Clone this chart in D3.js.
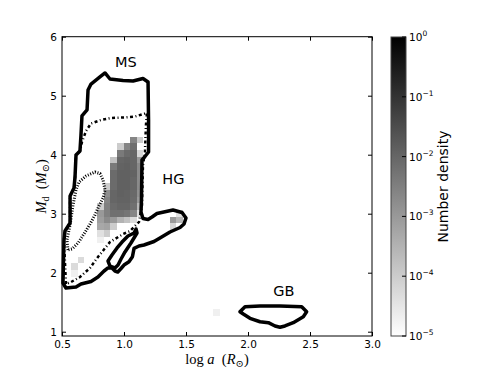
<!DOCTYPE html>
<meta charset="utf-8" />
<style>
  body { margin: 0; background: #fff; }
  text { font-family: "DejaVu Sans", sans-serif; fill: #000; }
  .math { font-family: "Liberation Serif", "DejaVu Serif", serif; font-size: 14.5px; }
</style>
<body>
<script src="https://d3js.org/d3.v7.min.js"></script>
<script>
// ---- data ----
var xTicks = [0.5, 1.0, 1.5, 2.0, 2.5, 3.0];
var yTicks = [1, 2, 3, 4, 5, 6];
var cbTicks = [1, 0.1, 0.01, 0.001, 0.0001, 0.00001];

// histogram bins: left edges in log a, bottom edges in Md
var binLogA = [0.784, 0.837, 0.890, 0.943, 0.996, 1.049, 1.102];
var binMd = [4.192, 4.079, 3.966, 3.853, 3.740, 3.627, 3.514, 3.401,
             3.288, 3.175, 3.062, 2.949, 2.836, 2.723, 2.610, 2.497];
var n = null;
// log10(number density), one array per log a column, one value per Md row
var logDensity = [
  [n, n, n, n, n, n, n, n, n, n, -4.0, -3.0, -3.1, -3.3, -4.4, -4.7],
  [n, n, n, n, n, n, n, -4.0, -2.8, -2.6, -2.5, -2.5, -2.7, -3.2, -4.0, n],
  [n, n, n, -3.8, -2.4, -2.1, -2.1, -2.1, -2.0, -2.0, -2.1, -2.2, -3.0, -4.0, n, n],
  [n, -4.0, -2.4, -2.0, -1.95, -1.9, -1.9, -1.9, -1.9, -1.95, -2.0, -2.2, -3.5, n, n, n],
  [n, -2.6, -2.1, -1.95, -1.9, -1.9, -1.9, -1.9, -1.95, -1.95, -2.0, -2.3, -3.8, n, n, n],
  [-2.6, -2.2, -2.0, -2.0, -2.0, -1.95, -2.0, -2.0, -2.05, -2.1, -2.2, -2.6, -4.3, n, n, n],
  [-4.0, n, -4.2, -3.0, -2.7, -2.7, -2.7, -2.7, -2.8, -3.0, -3.6, -4.4, n, n, n, n]
];
// isolated cells: [log a, Md, log10 density]
var extraCells = [
  [0.572, 2.045, -4.3], [0.625, 2.158, -4.3], [0.572, 1.932, -4.7],
  [1.420, 2.949, -4.4], [1.420, 2.836, -3.6], [1.367, 2.836, -3.0],
  [1.367, 2.723, -4.2], [1.720, 1.266, -4.7]
];

// contours: [log a, Md]
var contourOuter = [
  [0.847, 5.385], [0.887, 5.283], [0.992, 5.258], [1.073, 5.249], [1.153, 5.292],
  [1.194, 5.232], [1.198, 4.588], [1.198, 4.046], [1.169, 3.969], [1.145, 3.910],
  [1.141, 3.232], [1.137, 3.029], [1.153, 2.919], [1.194, 2.902], [1.226, 2.944],
  [1.266, 3.003], [1.395, 3.063], [1.468, 3.020], [1.500, 2.927], [1.484, 2.825],
  [1.452, 2.766], [1.371, 2.690], [1.290, 2.588], [1.242, 2.529], [1.161, 2.469],
  [1.121, 2.452], [1.081, 2.413], [1.068, 2.271], [1.040, 2.186], [1.000, 2.130],
  [0.976, 2.071], [0.950, 2.012], [0.927, 2.029], [0.903, 2.080], [0.871, 2.080],
  [0.839, 2.029], [0.790, 1.927], [0.734, 1.851], [0.653, 1.808], [0.613, 1.758],
  [0.532, 1.741], [0.508, 1.825], [0.516, 2.554], [0.524, 2.707], [0.565, 2.842],
  [0.565, 3.300], [0.597, 3.436], [0.605, 3.622], [0.613, 3.995], [0.645, 4.063],
  [0.653, 4.334], [0.661, 4.656], [0.702, 4.758], [0.710, 5.097], [0.734, 5.198],
  [0.806, 5.317]
];
var contourSliver = [
  [1.097, 2.741], [1.081, 2.673], [1.032, 2.622], [0.984, 2.520], [0.944, 2.419],
  [0.903, 2.300], [0.871, 2.198], [0.887, 2.113], [0.927, 2.080], [0.952, 2.130],
  [0.976, 2.232], [1.008, 2.351], [1.056, 2.503], [1.105, 2.673]
];
var contourGB = [
  [1.935, 1.339], [1.976, 1.424], [2.097, 1.436], [2.258, 1.436], [2.433, 1.424],
  [2.473, 1.339], [2.446, 1.254], [2.365, 1.153], [2.298, 1.097], [2.258, 1.075],
  [2.218, 1.097], [2.164, 1.153], [2.097, 1.169], [2.016, 1.227], [1.962, 1.300]
];
var contourMid = [
  [0.532, 1.808], [0.516, 2.554], [0.524, 2.707], [0.565, 2.842], [0.565, 3.300],
  [0.597, 3.436], [0.605, 3.622], [0.613, 3.995], [0.645, 4.063], [0.661, 4.215],
  [0.694, 4.403], [0.734, 4.529], [0.815, 4.588], [0.895, 4.622], [1.008, 4.631],
  [1.089, 4.647], [1.185, 4.707], [1.177, 4.503], [1.169, 4.046], [1.153, 3.825],
  [1.145, 3.147], [1.121, 2.859], [1.048, 2.706], [0.994, 2.656], [0.887, 2.520],
  [0.790, 2.266], [0.726, 2.080], [0.645, 1.927], [0.573, 1.842]
];
var contourCore = [
  [0.548, 2.385], [0.540, 2.554], [0.565, 2.808], [0.589, 3.147], [0.613, 3.402],
  [0.637, 3.537], [0.694, 3.639], [0.766, 3.707], [0.806, 3.681], [0.831, 3.571],
  [0.847, 3.402], [0.831, 3.266], [0.798, 3.131], [0.766, 2.978], [0.726, 2.825],
  [0.677, 2.656], [0.629, 2.503], [0.581, 2.402]
];
var regionNames = ["MS", "HG", "GB"];
var regionLogA = [1.016, 1.398, 2.289];
var regionMd = [5.49, 3.503, 1.605];

// ---- layout ----
var W = 499, H = 374;
var plot = { left: 62, right: 372, top: 36.7, bottom: 336 };
var cb = { left: 391, right: 406, top: 37, bottom: 336 };
var binW = 0.053, binH = 0.113;

var x = d3.scaleLinear().domain([0.5, 3.0]).range([plot.left, plot.right]);
var y = d3.scaleLinear().domain([0.927, 6.0]).range([plot.bottom, plot.top]);
var cbScale = d3.scaleLog().domain([1e-5, 1]).range([cb.bottom, cb.top]);
var grey = d3.scaleLinear().domain([-5, 0]).range(["#ffffff", "#000000"]).clamp(true);

var svg = d3.select("body").append("svg")
  .attr("width", W).attr("height", H);

// heat map cells
var cells = [];
logDensity.forEach(function (col, i) {
  col.forEach(function (v, j) {
    if (v !== null) cells.push([binLogA[i], binMd[j], v]);
  });
});
cells = cells.concat(extraCells);

svg.append("g").selectAll("rect").data(cells).enter().append("rect")
  .attr("x", function (d) { return x(d[0]); })
  .attr("y", function (d) { return y(d[1] + binH); })
  .attr("width", function (d) { return x(d[0] + binW) - x(d[0]); })
  .attr("height", function (d) { return y(d[1]) - y(d[1] + binH); })
  .attr("fill", function (d) { return grey(d[2]); })
  .attr("shape-rendering", "crispEdges");

// contours
var line = d3.line()
  .x(function (d) { return x(d[0]); })
  .y(function (d) { return y(d[1]); })
  .curve(d3.curveLinearClosed);

svg.append("path").attr("d", line(contourMid))
  .attr("fill", "none").attr("stroke", "#000").attr("stroke-width", 2.5)
  .attr("stroke-dasharray", "3,2.5,1,2.5");
svg.append("path").attr("d", line(contourCore))
  .attr("fill", "none").attr("stroke", "#000").attr("stroke-width", 3)
  .attr("stroke-dasharray", "1,1.6");
[contourOuter, contourSliver, contourGB].forEach(function (c) {
  svg.append("path").attr("d", line(c))
    .attr("fill", "none").attr("stroke", "#000").attr("stroke-width", 3.5)
    .attr("stroke-linejoin", "round");
});

// region labels
svg.selectAll(".region").data(regionNames).enter().append("text")
  .attr("class", "region")
  .attr("x", function (d, i) { return x(regionLogA[i]); })
  .attr("y", function (d, i) { return y(regionMd[i]); })
  .attr("text-anchor", "middle")
  .style("font-size", "14.5px")
  .text(function (d) { return d; });

// axes
function styleAxis(g) {
  g.select(".domain").remove();
  g.attr("font-family", "DejaVu Sans").attr("font-size", 10.5);
}
svg.append("g").attr("transform", "translate(0," + plot.bottom + ")")
  .call(d3.axisBottom(x).tickValues(xTicks).tickSize(-4).tickPadding(4.5)
    .tickFormat(d3.format(".1f")))
  .call(styleAxis);
svg.append("g").attr("transform", "translate(0," + plot.top + ")")
  .call(d3.axisTop(x).tickValues(xTicks).tickSize(-4).tickFormat(""))
  .call(styleAxis);
svg.append("g").attr("transform", "translate(" + plot.left + ",0)")
  .call(d3.axisLeft(y).tickValues(yTicks).tickSize(-4).tickPadding(5)
    .tickFormat(d3.format("d")))
  .call(styleAxis);
svg.append("g").attr("transform", "translate(" + plot.right + ",0)")
  .call(d3.axisRight(y).tickValues(yTicks).tickSize(-4).tickFormat(""))
  .call(styleAxis);

svg.append("rect")
  .attr("x", plot.left).attr("y", plot.top)
  .attr("width", plot.right - plot.left).attr("height", plot.bottom - plot.top)
  .attr("fill", "none").attr("stroke", "#000").attr("stroke-width", 1);

// axis labels
var xl = svg.append("text").attr("class", "math")
  .attr("x", (plot.left + plot.right) / 2).attr("y", 364)
  .attr("text-anchor", "middle");
xl.append("tspan").text("log ");
xl.append("tspan").style("font-style", "italic").text("a");
xl.append("tspan").text("\u2002(");
xl.append("tspan").style("font-style", "italic").text("R");
xl.append("tspan").attr("dy", 3).style("font-size", "10px").text("\u2299");
xl.append("tspan").attr("dy", -3).text(")");

var yl = svg.append("text").attr("class", "math")
  .attr("transform", "translate(46," + (plot.top + plot.bottom) / 2 + ") rotate(-90)")
  .attr("text-anchor", "middle");
yl.append("tspan").style("font-style", "italic").text("M");
yl.append("tspan").attr("dy", 3).style("font-size", "10px").text("d");
yl.append("tspan").attr("dy", -3).text("\u2002(");
yl.append("tspan").style("font-style", "italic").text("M");
yl.append("tspan").attr("dy", 3).style("font-size", "10px").text("\u2299");
yl.append("tspan").attr("dy", -3).text(")");

// colour bar
var grad = svg.append("defs").append("linearGradient")
  .attr("id", "cbgrad").attr("x1", 0).attr("y1", 1).attr("x2", 0).attr("y2", 0);
grad.append("stop").attr("offset", "0%").attr("stop-color", grey(-5));
grad.append("stop").attr("offset", "100%").attr("stop-color", grey(0));

svg.append("rect")
  .attr("x", cb.left).attr("y", cb.top)
  .attr("width", cb.right - cb.left).attr("height", cb.bottom - cb.top)
  .attr("fill", "url(#cbgrad)").attr("stroke", "#444").attr("stroke-width", 1);

var cbt = svg.append("g").selectAll("g").data(cbTicks).enter().append("g")
  .attr("transform", function (d) { return "translate(0," + cbScale(d) + ")"; });
cbt.append("line")
  .attr("x1", cb.right - 4).attr("x2", cb.right)
  .attr("stroke", "#000").attr("stroke-width", 1);
var cbl = cbt.append("text")
  .attr("x", cb.right + 3).attr("y", 4)
  .style("font-size", "10.5px");
cbl.append("tspan").text("10");
cbl.append("tspan").attr("dy", -5).style("font-size", "7.5px")
  .text(function (d) {
    var e = Math.round(Math.log10(d));
    return e === 0 ? "0" : "\u2212" + (-e);
  });

svg.append("text")
  .attr("transform", "translate(448," + (cb.top + cb.bottom) / 2 + ") rotate(-90)")
  .attr("text-anchor", "middle")
  .style("font-size", "14px")
  .text("Number density");
</script>
</body>
